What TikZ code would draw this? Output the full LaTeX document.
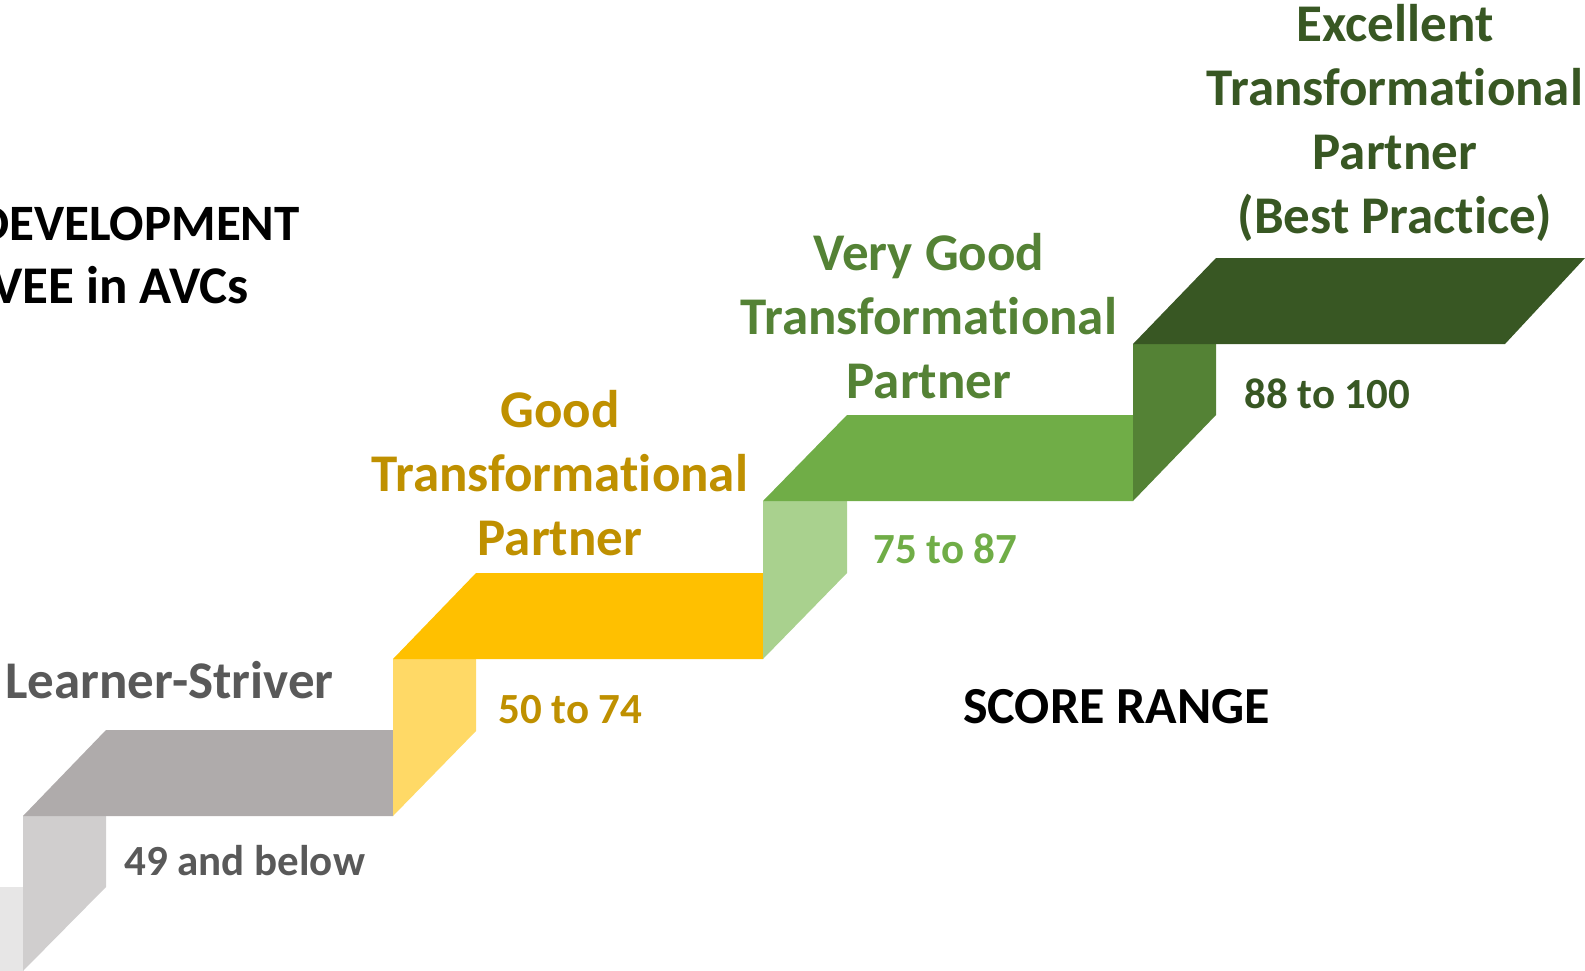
\documentclass[tikz,border=0pt]{standalone}
\usepackage{fontspec}
\setmainfont{Carlito}[Ligatures=NoCommon]
\usetikzlibrary{positioning}

\definecolor{greyFar}{HTML}{E7E6E6}
\definecolor{greyRiser}{HTML}{D0CECE}
\definecolor{greyTop}{HTML}{AFABAB}
\definecolor{greyText}{HTML}{595959}
\definecolor{goldRiser}{HTML}{FFD966}
\definecolor{goldTop}{HTML}{FFC000}
\definecolor{goldText}{HTML}{BF9000}
\definecolor{greenRiser}{HTML}{A9D18E}
\definecolor{greenTop}{HTML}{70AD47}
\definecolor{darkRiser}{HTML}{548235}
\definecolor{darkTop}{HTML}{385723}

\begin{document}
\begin{tikzpicture}[x=1pt, y=-1pt,
  title/.style={font=\fontsize{53}{64}\selectfont\bfseries, align=center, inner sep=0pt},
  scorelabel/.style={font=\fontsize{43}{52}\selectfont\bfseries, inner sep=0pt, anchor=base west}]

  \useasboundingbox (0,0) rectangle (1585,971);
  \clip (0,0) rectangle (1585,971);

  % Define steps (riser, then tread)
  \fill[greyFar] (0,887) rectangle (23,971);
  \fill[greyRiser] (23,816) -- (106,816) -- (106,887) -- (23,971) -- cycle;
  \fill[greyTop] (23,816) -- (106,730) -- (393,730) -- (393,816) -- cycle;
  \fill[goldRiser] (393,659) -- (476,659) -- (476,731) -- (393,816) -- cycle;
  \fill[goldTop] (393,659) -- (476,573) -- (763,573) -- (763,659) -- cycle;
  \fill[greenRiser] (763,501) -- (847,501) -- (847,573) -- (763,659) -- cycle;
  \fill[greenTop] (763,501) -- (847,415) -- (1133,415) -- (1133,501) -- cycle;
  \fill[darkRiser] (1133,344) -- (1216,344) -- (1216,415) -- (1133,501) -- cycle;
  \fill[darkTop] (1133,344) -- (1216,258) -- (1585,258) -- (1505,344) -- cycle;

  % Define nodes (base = baseline of last line)
  \node[title, font=\fontsize{51}{63}\selectfont\bfseries, anchor=base east] (dev) at (300,240) {DEVELOPMENT};
  \node[title, anchor=base east] (vee) at (249,303) {VEE in AVCs};
  \node[title, text=greyText, anchor=base west] (learner) at (5,698) {Learner-Striver};
  \node[title, text=goldText, anchor=base] (good) at (560,555) {Good\\Transformational\\Partner};
  \node[title, text=darkRiser, anchor=base] (verygood) at (929,398) {Very Good\\Transformational\\Partner};
  \node[title, text=darkTop, anchor=base] (excellent) at (1395,233) {Excellent\\Transformational\\Partner\\(Best Practice)};

  \node[scorelabel, text=greyText] (r49) at (124,875) {49 and below};
  \node[scorelabel, text=goldText] (r50) at (498,723) {50 to 74};
  \node[scorelabel, text=greenTop] (r75) at (873,563) {75 to 87};
  \node[scorelabel, text=darkTop] (r88) at (1244,408) {88 to 100};
  \node[scorelabel, font=\fontsize{52}{63}\selectfont\bfseries] (score) at (963,723) {SCORE RANGE};
\end{tikzpicture}
\end{document}
